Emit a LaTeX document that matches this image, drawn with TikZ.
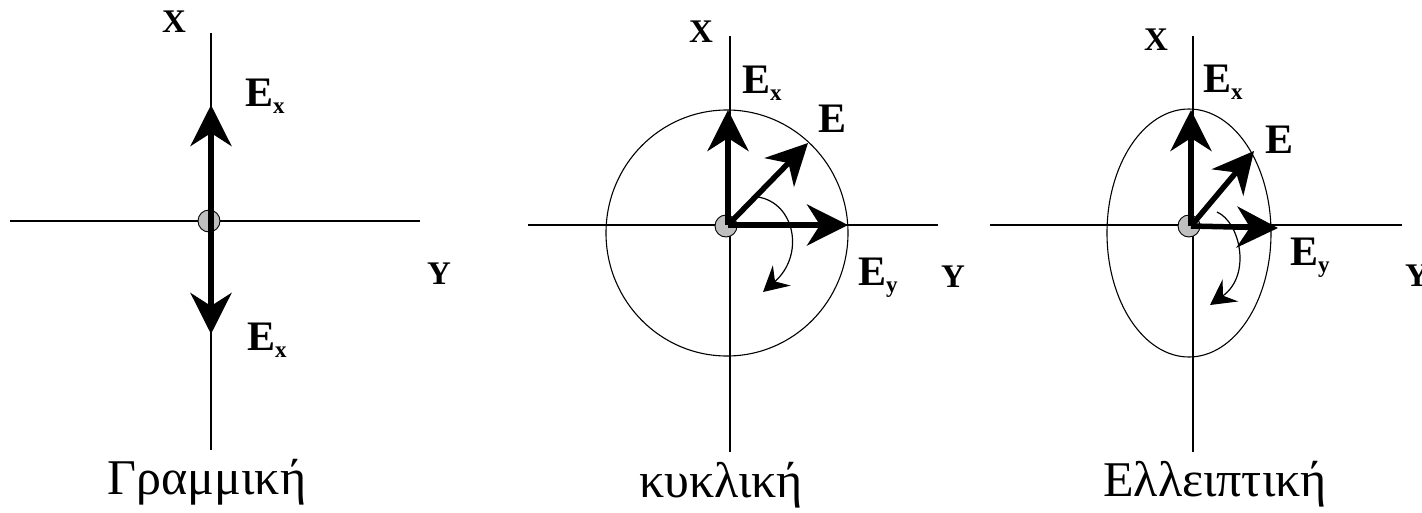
\documentclass[tikz,border=0pt]{standalone}
\usepackage{fontspec}
\setmainfont{Liberation Serif}
\usetikzlibrary{arrows.meta}
\tikzset{
  axis/.style={line width=1.3pt},
  curve/.style={line width=1.1pt},
  dot/.style={circle, draw, line width=0.9pt, fill=gray!50, minimum size=22pt, inner sep=0pt},
  vec/.style={line width=5.5pt, -{Stealth[length=41pt, width=41pt, inset=13pt]}},
  rot/.style={line width=1.2pt, -{Stealth[length=25pt, width=27pt, inset=9pt]}},
  axlab/.style={font=\fontsize{33}{33}\selectfont\bfseries, inner sep=0pt, anchor=base west},
  elab/.style={font=\fontsize{42}{42}\selectfont\bfseries, inner sep=0pt, anchor=base west},
  captext/.style={font=\fontsize{50}{50}\selectfont, inner sep=0pt, anchor=base}
}
\newcommand{\subl}[1]{\raisebox{-7pt}{\fontsize{23}{23}\selectfont #1}}
\begin{document}
\begin{tikzpicture}[x=1pt, y=-1pt]
\useasboundingbox (0,0) rectangle (1422,512);
% ---------- Panel 1 ----------
\coordinate (a1t) at (211,33);
\coordinate (a1b) at (211,450);
\coordinate (a1l) at (10,221);
\coordinate (a1r) at (420,221);
\draw[axis] (a1t) -- (a1b);
\draw[axis] (a1l) -- (a1r);
\node[dot] (o1) at (209,221) {};
\coordinate (c1) at (211,221);
\coordinate (u1) at (211,105);
\coordinate (d1) at (211,334);
\draw[vec] (c1) -- (u1);
\draw[vec] (c1) -- (d1);
\node[axlab] (x1) at (162,32) {X};
\node[elab] (ex1) at (245,106) {E\subl{x}};
\node[elab] (ex1b) at (247,350) {E\subl{x}};
\node[axlab] (y1) at (427,284) {Y};
\node[captext] (cap1) at (207,494) {Γραμμική};
% ---------- Panel 2 ----------
\coordinate (a2t) at (730,36);
\coordinate (a2b) at (730,452);
\coordinate (a2l) at (528,225);
\coordinate (a2r) at (938,225);
\draw[axis] (a2t) -- (a2b);
\draw[axis] (a2l) -- (a2r);
\draw[curve] (727,233) ellipse [x radius=121, y radius=123];
\node[dot] (o2) at (726,226) {};
\coordinate (c2) at (728,225);
\coordinate (u2) at (728,110);
\coordinate (e2) at (808,143);
\coordinate (r2) at (848,225);
\draw[vec] (c2) -- (u2);
\draw[vec] (c2) -- (e2);
\draw[vec] (c2) -- (r2);
\coordinate (s2) at (758,197);
\coordinate (t2) at (763,292);
\draw[rot] (s2) .. controls (795,203) and (805,255) .. (t2);
\node[axlab] (x2) at (689,42) {X};
\node[elab] (ex2) at (742,93) {E\subl{x}};
\node[elab] (e2l) at (818,132) {E};
\node[elab] (ey2) at (858,285) {E\subl{y}};
\node[axlab] (y2) at (941,287) {Y};
\node[captext] (cap2) at (721,497) {κυκλική};
% ---------- Panel 3 ----------
\coordinate (a3t) at (1193,36);
\coordinate (a3b) at (1193,452);
\coordinate (a3l) at (990,225);
\coordinate (a3r) at (1402,225);
\draw[axis] (a3t) -- (a3b);
\draw[axis] (a3l) -- (a3r);
\draw[curve] (1189,233) ellipse [x radius=82, y radius=124];
\node[dot] (o3) at (1189,226) {};
\coordinate (c3) at (1191,226);
\coordinate (u3) at (1191,110);
\coordinate (e3) at (1254,151);
\coordinate (r3) at (1278,228);
\draw[vec] (c3) -- (u3);
\draw[vec] (c3) -- (e3);
\draw[vec] (c3) -- (r3);
\coordinate (s3) at (1217,212);
\coordinate (t3) at (1210,305);
\draw[rot] (s3) .. controls (1240,222) and (1252,275) .. (t3);
\node[axlab] (x3) at (1144,50) {X};
\node[elab] (ex3) at (1203,92) {E\subl{x}};
\node[elab] (e3l) at (1265,153) {E};
\node[elab] (ey3) at (1290,265) {E\subl{y}};
\node[axlab] (y3) at (1405,286) {Y};
\node[captext] (cap3) at (1215,496) {Ελλειπτική};
\end{tikzpicture}
\end{document}
